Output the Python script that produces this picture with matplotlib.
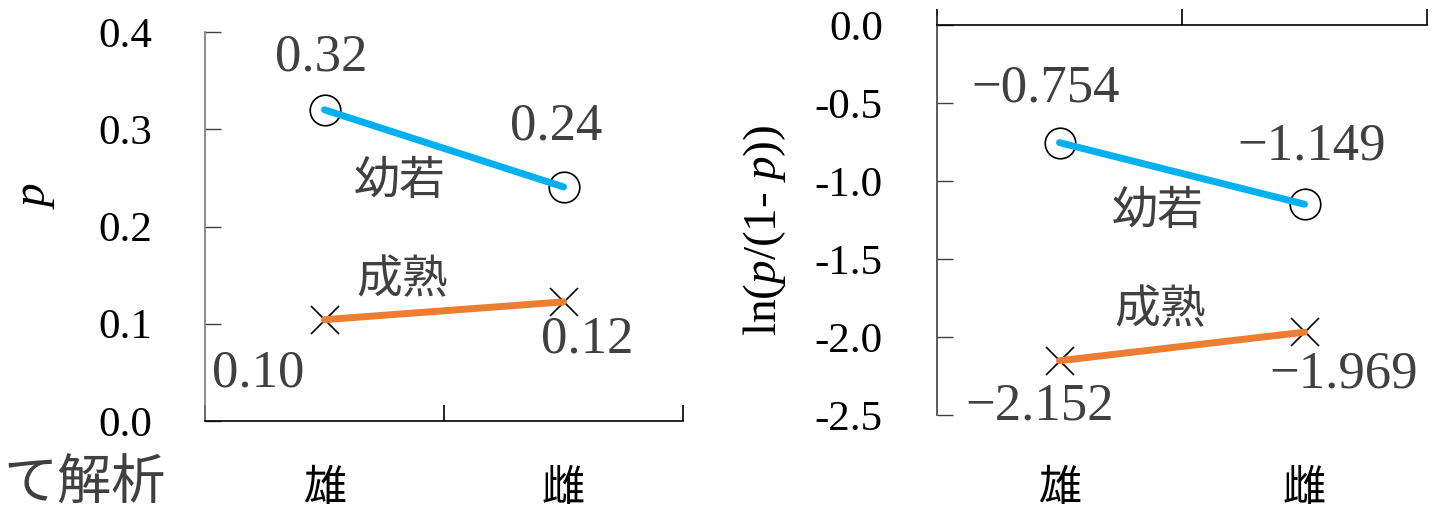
import matplotlib
matplotlib.use("Agg")
import matplotlib.pyplot as plt
from matplotlib.ticker import FormatStrFormatter
from matplotlib.transforms import blended_transform_factory

plt.rcParams['font.family'] = ['Liberation Serif', 'Noto Sans CJK JP', 'DejaVu Sans']
plt.rcParams['axes.unicode_minus'] = False
plt.rcParams['mathtext.fontset'] = 'custom'
plt.rcParams['mathtext.rm'] = 'Liberation Serif'
plt.rcParams['mathtext.it'] = 'Liberation Serif:italic'

# ---- data ----
categories = ['雄', '雌']
series_names = ['幼若', '成熟']
p_young = [0.3200, 0.2407]
p_mature = [0.1042, 0.1225]
logit_young = [-0.754, -1.149]
logit_mature = [-2.152, -1.969]
p_ticks = [0.0, 0.1, 0.2, 0.3, 0.4]
logit_ticks = [0.0, -0.5, -1.0, -1.5, -2.0, -2.5]

BLUE = '#00B0F0'
ORANGE = '#ED7D31'
TXT = '#404040'
CJK = 'Noto Sans CJK JP'
PX = 0.72  # points per pixel at 100 dpi

fig = plt.figure(figsize=(14.5, 5.12), dpi=100)
W, H = 1450, 512
ax1 = fig.add_axes([205 / W, (H - 421) / H, 478 / W, 389 / H])
ax2 = fig.add_axes([937 / W, (H - 415) / H, 490 / W, 397.8 / H])

xpos = [0.5, 1.5]


def draw_series(ax, ys, color, marker, msize):
    ax.plot(xpos, ys, linestyle='none', marker=marker, markersize=msize,
            markerfacecolor='none', markeredgecolor='black',
            markeredgewidth=1.2, zorder=3, clip_on=False)
    ax.plot(xpos, ys, color=color, linewidth=5, solid_capstyle='round',
            zorder=4, clip_on=False)


def value_label(ax, x, y, text, dx, dy):
    # dx, dy: pixel offset of the label's visual centre (dy measured downward)
    ax.annotate(text, xy=(x, y), xytext=(dx * PX, -(dy + 17.4) * PX),
                textcoords='offset points', ha='center', va='baseline',
                fontsize=38, color=TXT, family='Liberation Serif', zorder=5)


def name_label(ax, x, y, text, dx, dy):
    ax.annotate(text, xy=(x, y), xytext=(dx * PX, -dy * PX),
                textcoords='offset points', ha='center', va='center',
                fontsize=33, color=TXT, family=CJK, zorder=5)


# ---- left panel: p ----
draw_series(ax1, p_young, BLUE, 'o', 22)
draw_series(ax1, p_mature, ORANGE, 'x', 20)
ax1.set_xlim(0, 2)
ax1.set_ylim(0, 0.4)
ax1.set_xticks([0, 1, 2])
ax1.set_xticklabels([])
ax1.set_yticks(p_ticks)
ax1.yaxis.set_major_formatter(FormatStrFormatter('%.1f'))
ax1.tick_params(axis='y', direction='in', length=11.5, width=1.0,
                color='#404040', labelsize=31, pad=38, labelcolor='black')
ax1.tick_params(axis='x', direction='in', length=11.5, width=1.2, color='black')
for s in ('top', 'right'):
    ax1.spines[s].set_visible(False)
ax1.spines['left'].set_color('#7a7a7a')
ax1.spines['left'].set_linewidth(1.2)
ax1.spines['bottom'].set_color('black')
ax1.spines['bottom'].set_linewidth(1.2)

young_off_1 = [(-3, -57), (-7.7, -64.4)]
mature_off_1 = [(-66.5, 49.3), (23.2, 33.1)]
for i in range(2):
    value_label(ax1, xpos[i], p_young[i], f'{p_young[i]:.2f}', *young_off_1[i])
    value_label(ax1, xpos[i], p_mature[i], f'{p_mature[i]:.2f}', *mature_off_1[i])
name_label(ax1, xpos[0], p_young[0], series_names[0], 75.5, 71)
name_label(ax1, xpos[0], p_mature[0], series_names[1], 78, -39.7)

# ---- right panel: logit ----
draw_series(ax2, logit_young, BLUE, 'o', 22)
draw_series(ax2, logit_mature, ORANGE, 'x', 20)
ax2.set_xlim(0, 2)
ax2.set_ylim(-2.5, 0.05)
ax2.spines['bottom'].set_position(('data', 0))
ax2.set_xticks([0, 1, 2])
ax2.set_xticklabels([])
ax2.set_yticks(logit_ticks)
ax2.yaxis.set_major_formatter(FormatStrFormatter('%.1f'))
ax2.tick_params(axis='y', direction='in', length=11.5, width=1.0,
                color='#404040', labelsize=31, pad=39, labelcolor='black')
ax2.tick_params(axis='x', direction='in', length=11.5, width=1.2, color='black')
for s in ('top', 'right'):
    ax2.spines[s].set_visible(False)
ax2.spines['left'].set_color('#404040')
ax2.spines['left'].set_linewidth(1.2)
ax2.spines['bottom'].set_color('black')
ax2.spines['bottom'].set_linewidth(1.2)


def fmt_logit(v):
    return f'{v:.3f}'.replace('-', '\u2212')


young_off_2 = [(-13.5, -58.6), (7.2, -61.7)]
mature_off_2 = [(-19.5, 41.8), (39.5, 37.8)]
for i in range(2):
    value_label(ax2, xpos[i], logit_young[i], fmt_logit(logit_young[i]), *young_off_2[i])
    value_label(ax2, xpos[i], logit_mature[i], fmt_logit(logit_mature[i]), *mature_off_2[i])
name_label(ax2, xpos[0], logit_young[0], series_names[0], 98.5, 68.4)
name_label(ax2, xpos[0], logit_mature[0], series_names[1], 100.5, -50.7)

# ---- category labels under both panels ----
for ax in (ax1, ax2):
    tr = blended_transform_factory(ax.transData, fig.transFigure)
    for x, c in zip(xpos, categories):
        ax.text(x, 1 - 489 / H, c, transform=tr, ha='center', va='center',
                fontsize=31, color='black', family=CJK, fontweight='normal')

# ---- axis titles ----
fig.text(36 / W, 1 - 196 / H, '$p$', rotation=90, ha='center', va='center',
         fontsize=34, color='black')
fig.text(764 / W, 1 - 230 / H, 'ln($p$/(1- $p$))', rotation=90,
         ha='center', va='center', fontsize=34, color='black')

fig.text(3 / W, 1 - 484 / H, 'て解析', ha='left', va='center',
         fontsize=39, color=TXT, family=CJK)

fig.savefig('out.png', dpi=100)
